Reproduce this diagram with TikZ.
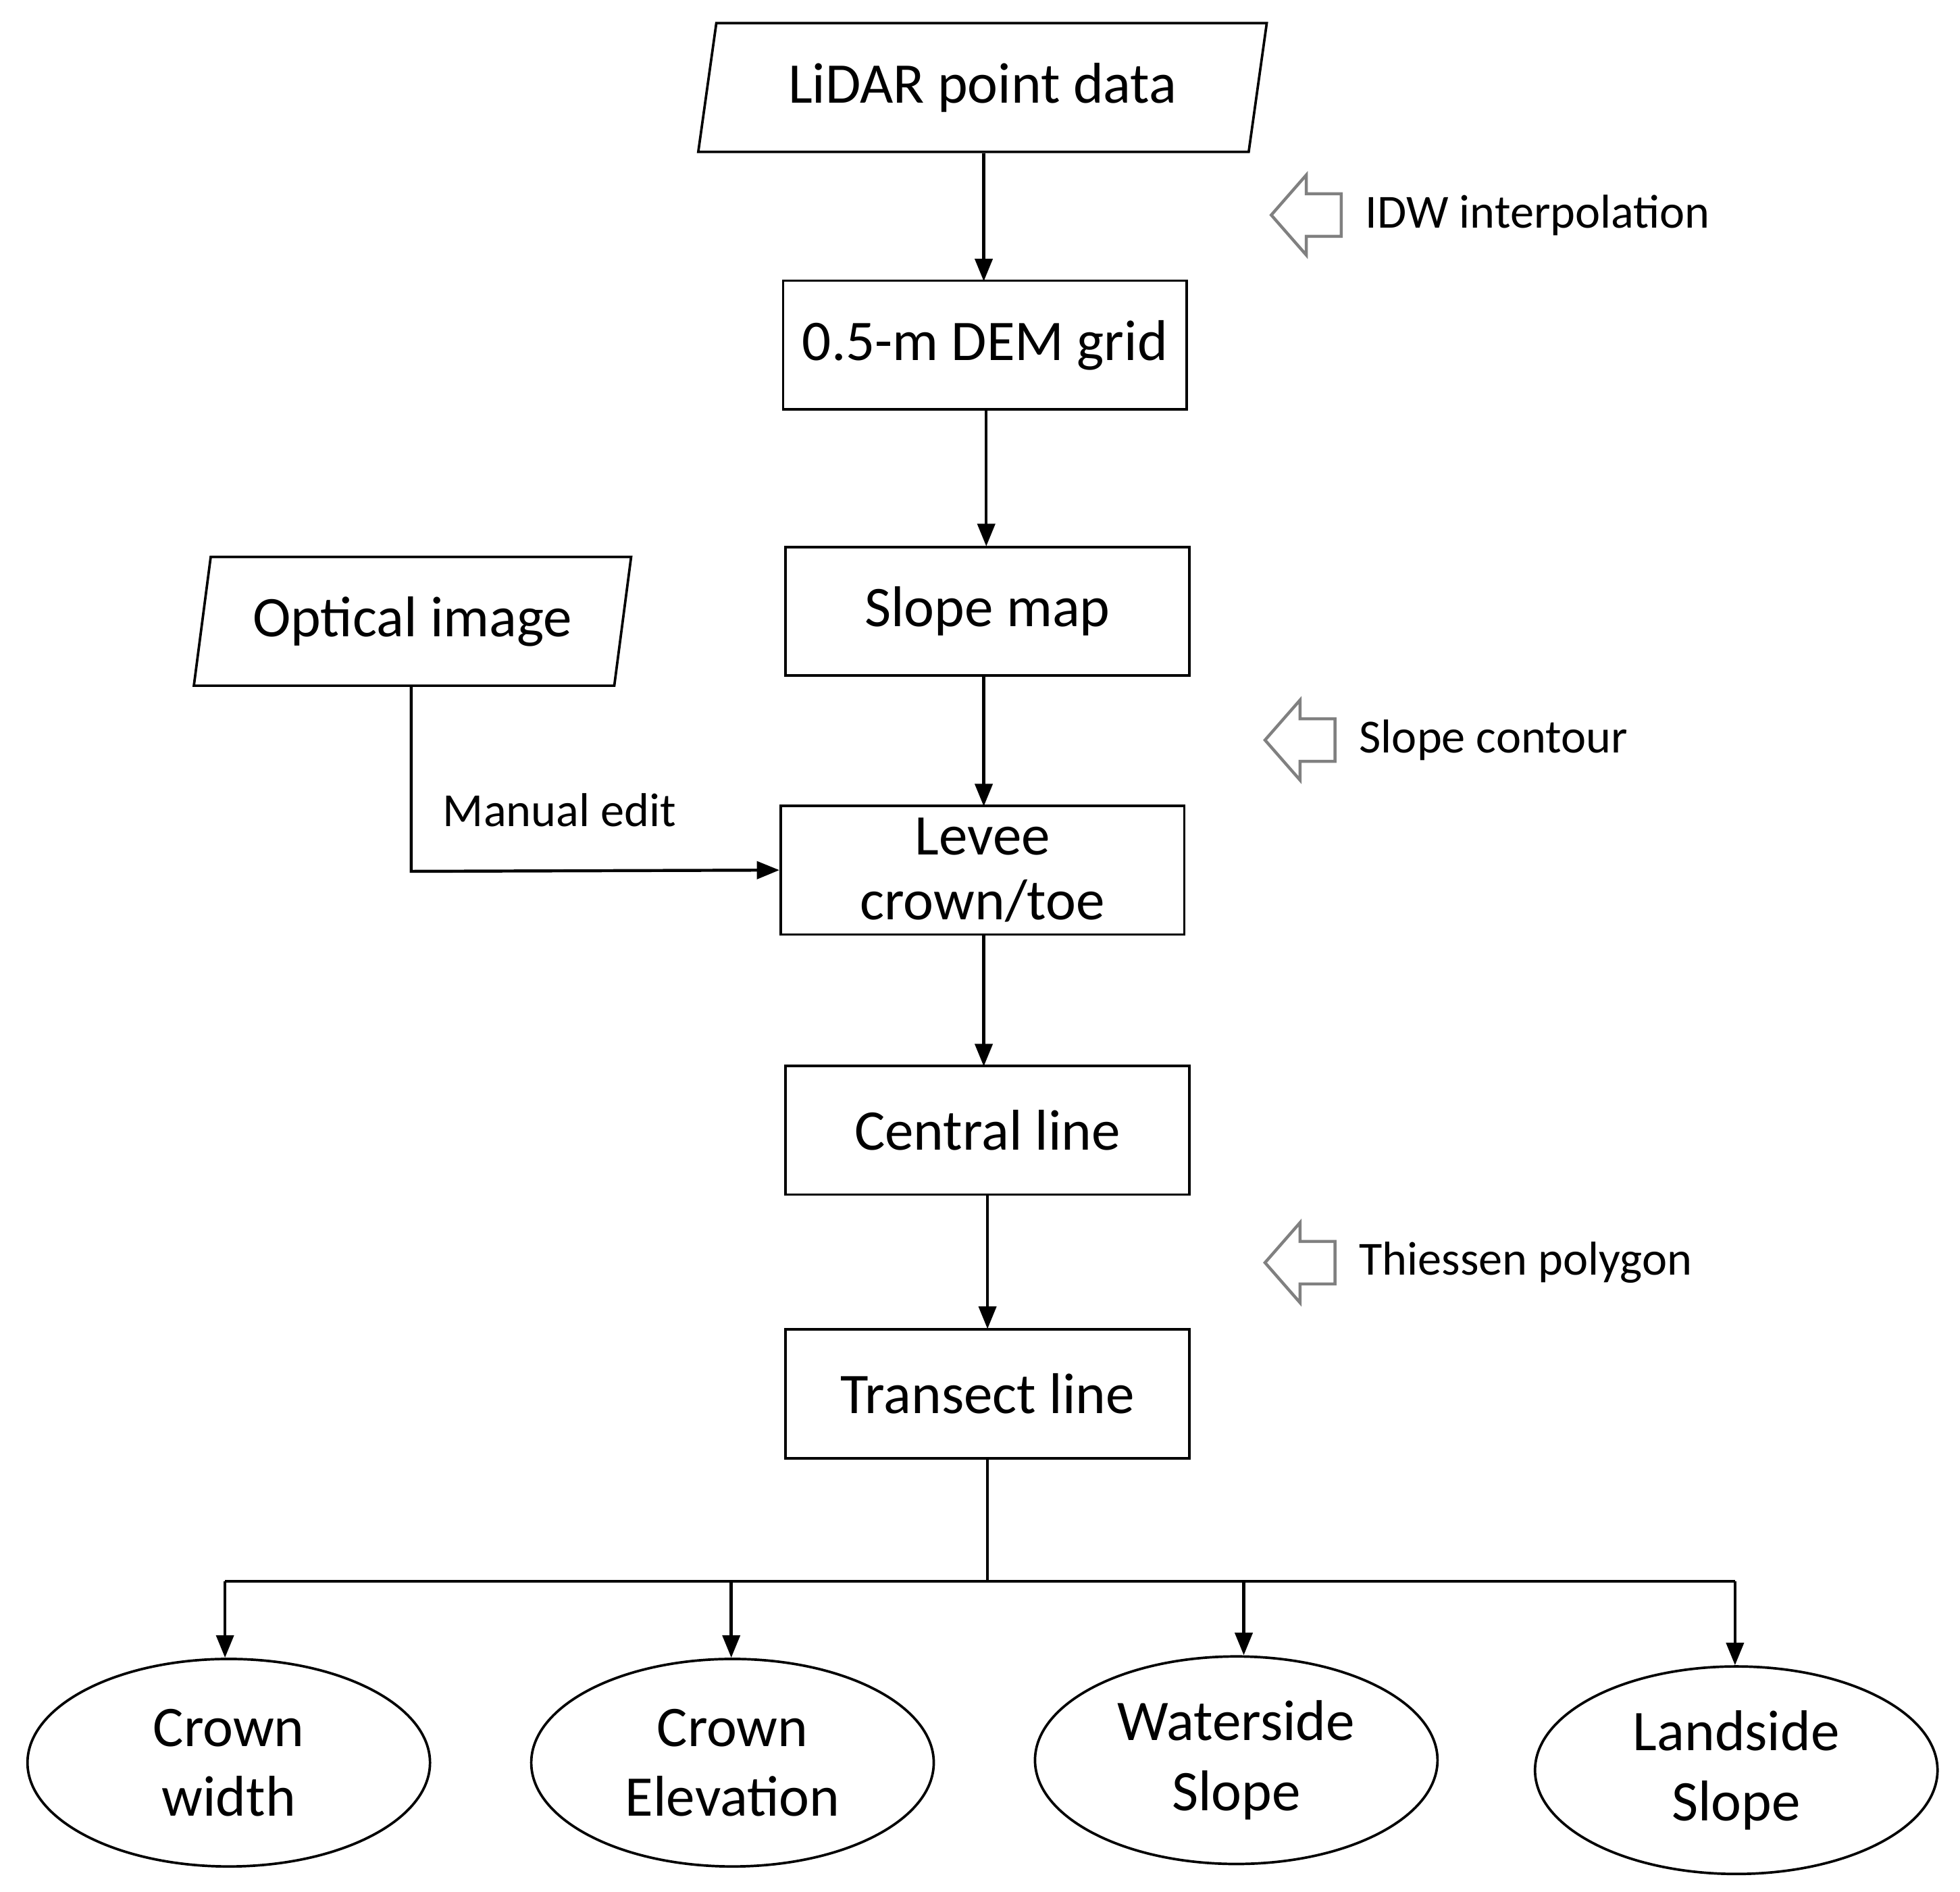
\documentclass[tikz,border=0pt]{standalone}
\usepackage{fontspec}
\setmainfont{Carlito}
\usetikzlibrary{shapes.geometric,arrows.meta}
\begin{document}
\begin{tikzpicture}[x=0.5pt,y=-0.5pt,
  box/.style={draw,line width=1pt,minimum width=161.5pt,minimum height=51.5pt,font=\fontsize{23}{26}\selectfont,align=center,inner sep=0pt},
  para/.style={draw,line width=1pt,trapezium,trapezium left angle=75,trapezium right angle=105,minimum width=228pt,minimum height=51.5pt,font=\fontsize{23}{26}\selectfont,inner sep=0pt,trapezium stretches=true},
  ell/.style={draw,line width=1pt,ellipse,minimum width=161pt,minimum height=83pt,font=\fontsize{23}{28}\selectfont,align=center,inner sep=0pt},
  arr/.style={line width=1.2pt,-{Triangle[length=9pt,width=7pt]}},
  lab/.style={font=\fontsize{19}{22}\selectfont,anchor=west,inner sep=0pt},
  hol/.style={draw=gray,line width=1.2pt,fill=white}]
\useasboundingbox (0,0) rectangle (1568,1513);
\node[para] (lidar) at (786,70) {LiDAR point data};
\node[box] (dem) at (788,276) {0.5-m DEM grid};
\node[box] (slope) at (790,489) {Slope map};
\node[box] (levee) at (786,696) {Levee\\crown/toe};
\node[box] (central) at (790,904) {Central line};
\node[box] (transect) at (790,1115) {Transect line};
\node[para,minimum width=175pt] (optical) at (330,497) {Optical image};
\node[ell] (e1) at (183,1410) {Crown\\width};
\node[ell] (e2) at (586,1410) {Crown\\Elevation};
\node[ell] (e3) at (989,1408) {Waterside\\Slope};
\node[ell] (e4) at (1389,1416) {Landside\\Slope};
\draw[arr] (lidar.south -| 787,0) -- (787,225);
\draw[arr] (789,328) -- (789,437);
\draw[arr] (787,541) -- (787,645);
\draw[arr] (787,748) -- (787,853);
\draw[arr] (790,956) -- (790,1063);
\coordinate (j) at (790,1265);
\draw[line width=1.2pt] (transect.south) -- (j);
\draw[line width=1.2pt] (180,1265) -- (1388,1265);
\draw[arr] (180,1265) -- (e1.north -| 180,0);
\draw[arr] (585,1265) -- (e2.north -| 585,0);
\draw[arr] (995,1265) -- (e3.north -| 995,0);
\draw[arr] (1388,1265) -- (e4.north -| 1388,0);
\draw[arr] (optical.south -| 329,0) -- (329,697) -- (levee.west);
\node[lab] (me) at (354,648) {Manual edit};
\foreach \y/\x/\t/\n in {172/1017/IDW interpolation/a, 592/1012/Slope contour/b, 1010/1012/Thiessen polygon/c}{
  \draw[hol] (\x,\y) -- ++(28,-32) -- ++(0,15) -- ++(28,0) -- ++(0,34) -- ++(-28,0) -- ++(0,15) -- cycle;
  \node[lab] (\n) at (\x+75,\y) {\t};
}
\end{tikzpicture}
\end{document}
